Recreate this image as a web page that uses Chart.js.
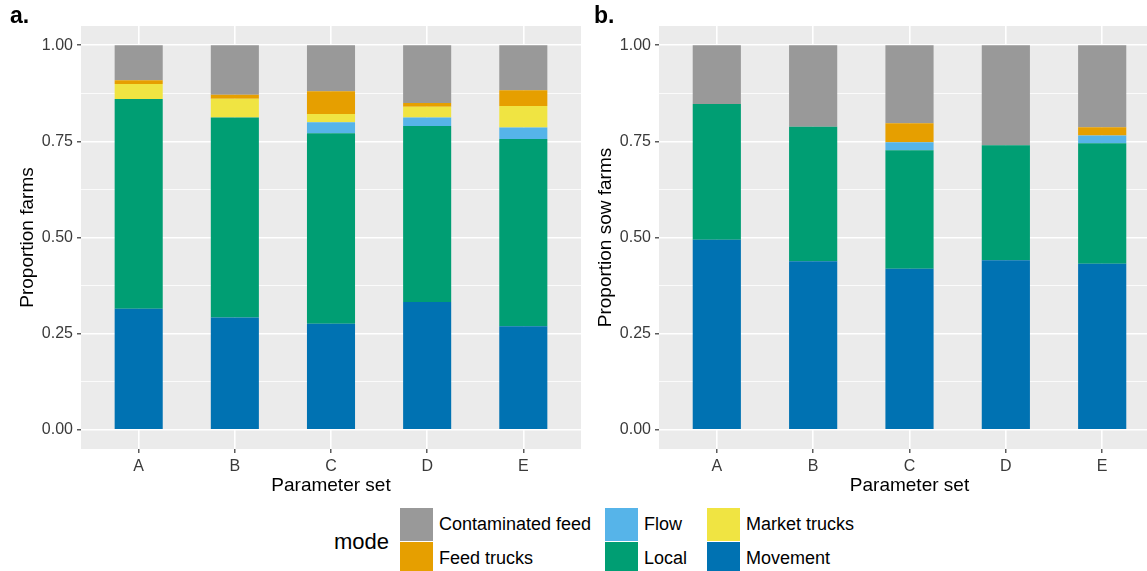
<!DOCTYPE html>
<html>
<head>
<meta charset="utf-8">
<script src="https://cdn.jsdelivr.net/npm/chart.js@4.4.1/dist/chart.umd.min.js"></script>
<style>
  html, body { margin: 0; padding: 0; background: #fff; overflow: hidden; width: 1147px; height: 571px; }
  #wrap { position: relative; width: 1147px; height: 571px; overflow: hidden; font-family: "Liberation Sans", Arial, sans-serif; color: #000; }
  .panel { position: absolute; top: 0; height: 500px; }
  #pa { left: 0; width: 590px; }
  #pb { left: 578px; width: 600px; }
  .tag { position: absolute; top: 2px; font-size: 23px; font-weight: bold; }
  #tagA { left: 10px; }
  #tagB { left: 594px; }
  #modeTitle { position: absolute; left: 334px; top: 529px; font-size: 22px; }
  #legend { position: absolute; left: 400px; top: 507px; display: grid;
            grid-template-columns: 205px 102px 200px; grid-template-rows: 34.5px 34.5px;
            grid-auto-flow: column; }
  .item { display: flex; align-items: center; font-size: 18px; }
  .sw { width: 33px; height: 33px; margin-right: 6px; flex: none; }
</style>
</head>
<body>
<div id="wrap">
  <canvas id="pa" class="panel" width="590" height="500"></canvas>
  <canvas id="pb" class="panel" width="600" height="500"></canvas>
  <div id="tagA" class="tag">a.</div>
  <div id="tagB" class="tag">b.</div>
  <div id="modeTitle">mode</div>
  <div id="legend"></div>
</div>
<script>
// Parameter sets on the x axis
const categories = ['A', 'B', 'C', 'D', 'E'];

// Transmission modes, listed from the bottom of each stack to the top
const modes = ['Movement', 'Local', 'Flow', 'Market trucks', 'Feed trucks', 'Contaminated feed'];
const modeColors = ['#0072B2', '#009E73', '#56B4E9', '#F0E442', '#E69F00', '#999999'];
const legendOrder = ['Contaminated feed', 'Feed trucks', 'Flow', 'Local', 'Market trucks', 'Movement'];

// y axis ticks (major labelled, minor as light grid lines)
const yTickValues = [0, 0.25, 0.5, 0.75, 1];
const yTickLabels = ['0.00', '0.25', '0.50', '0.75', '1.00'];
const yMinorValues = [0.125, 0.375, 0.625, 0.875];

// a. proportion of all infected farms by mode
const farmsMovement  = [0.315, 0.292, 0.276, 0.332, 0.269];
const farmsLocal     = [0.545, 0.520, 0.495, 0.458, 0.487];
const farmsFlow      = [0.000, 0.000, 0.029, 0.022, 0.030];
const farmsMarket    = [0.039, 0.049, 0.021, 0.028, 0.056];
const farmsFeedTruck = [0.010, 0.010, 0.059, 0.010, 0.041];
const farmsContFeed  = [0.091, 0.129, 0.120, 0.150, 0.117];

// b. proportion of infected sow farms by mode
const sowMovement  = [0.494, 0.438, 0.419, 0.441, 0.432];
const sowLocal     = [0.353, 0.350, 0.308, 0.299, 0.313];
const sowFlow      = [0.000, 0.000, 0.021, 0.000, 0.020];
const sowMarket    = [0.000, 0.000, 0.000, 0.000, 0.000];
const sowFeedTruck = [0.000, 0.000, 0.049, 0.000, 0.022];
const sowContFeed  = [0.153, 0.212, 0.203, 0.260, 0.213];

const FONT = '"Liberation Sans", Arial, sans-serif';
const TICK_COLOR = '#3A3A3A';
const isMajor = v => yTickValues.indexOf(v) >= 0;

// grey panel background behind the grid
const panelBg = {
  id: 'panelBg',
  beforeDraw(chart) {
    const { ctx, chartArea: a } = chart;
    ctx.save();
    ctx.fillStyle = '#EBEBEB';
    ctx.fillRect(a.left, a.top, a.right - a.left, a.bottom - a.top);
    ctx.restore();
  }
};

function makeChart(id, series, yTitle, padRight) {
  const datasets = modes.map((m, i) => ({
    label: m,
    data: series[i].map((v, j) => ({ x: j, y: v })),
    backgroundColor: modeColors[i],
    borderWidth: 0,
    barPercentage: 0.5,
    categoryPercentage: 1.0
  }));
  return new Chart(document.getElementById(id), {
    type: 'bar',
    data: { datasets },
    plugins: [panelBg],
    options: {
      responsive: false,
      animation: false,
      devicePixelRatio: 1,
      layout: { padding: { top: 26, right: padRight, left: 0, bottom: 0 } },
      plugins: { legend: { display: false }, tooltip: { enabled: false } },
      scales: {
        x: {
          type: 'linear', stacked: true, min: -0.6, max: 4.6, offset: false,
          afterBuildTicks(s) { s.ticks = categories.map((c, i) => ({ value: i })); },
          afterFit(s) { s.height = 51; },
          ticks: {
            callback: v => categories[v], autoSkip: false, maxRotation: 0,
            font: { size: 16, family: FONT }, color: TICK_COLOR, padding: 4
          },
          grid: { offset: false, color: '#FFFFFF', lineWidth: 1.6, tickLength: 4, tickColor: '#333333', tickWidth: 1.2 },
          border: { display: false },
          title: { display: true, text: 'Parameter set', color: '#000', font: { size: 19, family: FONT }, padding: { top: 0, bottom: 3 } }
        },
        y: {
          type: 'linear', stacked: true, min: -0.05, max: 1.05,
          afterBuildTicks(s) {
            s.ticks = yTickValues.concat(yMinorValues).sort((p, q) => p - q).map(v => ({ value: v }));
          },
          afterFit(s) { s.width = 81; },
          ticks: {
            callback: v => { const k = yTickValues.indexOf(v); return k < 0 ? '' : yTickLabels[k]; },
            autoSkip: false, font: { size: 16, family: FONT }, color: TICK_COLOR, padding: 4
          },
          grid: {
            color: '#FFFFFF',
            lineWidth: c => isMajor(c.tick.value) ? 1.6 : 0.8,
            tickLength: 4,
            tickColor: c => isMajor(c.tick.value) ? '#333333' : 'rgba(0,0,0,0)',
            tickWidth: 1.2
          },
          border: { display: false },
          title: { display: true, text: yTitle, color: '#000', font: { size: 19, family: FONT }, padding: { top: 16, bottom: 0 } }
        }
      }
    }
  });
}

makeChart('pa', [farmsMovement, farmsLocal, farmsFlow, farmsMarket, farmsFeedTruck, farmsContFeed], 'Proportion farms', 9);
makeChart('pb', [sowMovement, sowLocal, sowFlow, sowMarket, sowFeedTruck, sowContFeed], 'Proportion sow farms', 18);

// legend keys, laid out column by column
const legend = document.getElementById('legend');
legendOrder.forEach(name => {
  const item = document.createElement('div');
  item.className = 'item';
  const sw = document.createElement('div');
  sw.className = 'sw';
  sw.style.background = modeColors[modes.indexOf(name)];
  const label = document.createElement('span');
  label.textContent = name;
  item.appendChild(sw);
  item.appendChild(label);
  legend.appendChild(item);
});
</script>
</body>
</html>
